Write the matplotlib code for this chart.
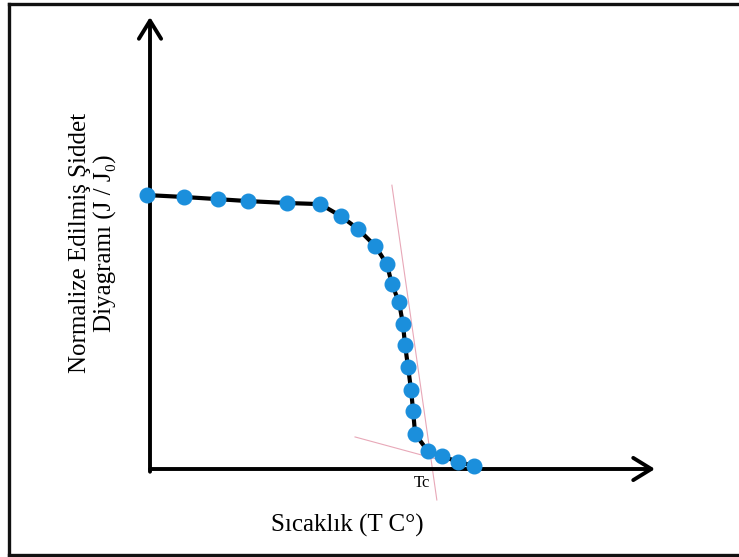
import matplotlib.pyplot as plt
from matplotlib.lines import Line2D

# temperature (arbitrary units) and normalized intensity J/J0
temp = [-0.6, 6.7, 13.5, 19.4, 27.1, 33.7, 37.8, 41.2, 44.6, 46.9, 47.9,
        49.3, 50.1, 50.5, 51.1, 51.7, 52.1, 52.5, 55.0, 57.8, 61.0, 64.2]
intensity = [1.0, 0.993, 0.985, 0.978, 0.971, 0.967, 0.923, 0.876, 0.814,
             0.748, 0.675, 0.609, 0.529, 0.453, 0.372, 0.288, 0.212, 0.128,
             0.066, 0.047, 0.026, 0.011]

# tangent lines used to find Tc
tan1_t = [47.9, 56.8]
tan1_j = [1.036, -0.113]
tan2_t = [40.6, 57.4]
tan2_j = [0.117, 0.033]
tc_pos = (53.9, -0.051)

W, H = 739, 557
fig = plt.figure(figsize=(W / 100, H / 100), dpi=100)
ax = fig.add_axes([150 / W, (H - 469) / H, (655 - 150) / W, (469 - 17) / H])
ax.set_xlim(0, 100)
ax.set_ylim(0, 1.65)
ax.axis('off')

serif = ['Liberation Serif', 'DejaVu Serif']

# axes arrows
arrow = dict(arrowstyle='->,head_length=0.65,head_width=0.4', lw=2.8,
             color='black', mutation_scale=20, shrinkA=0, shrinkB=0)
ax.annotate('', xy=(0, 1.65), xytext=(0, -0.01), arrowprops=arrow,
            annotation_clip=False)
ax.annotate('', xy=(100, 0), xytext=(0, 0), arrowprops=arrow,
            annotation_clip=False)

ax.plot(tan1_t, tan1_j, color='#e8a8b8', lw=0.8, clip_on=False, zorder=1)
ax.plot(tan2_t, tan2_j, color='#e8a8b8', lw=0.8, clip_on=False, zorder=1)

ax.plot(temp, intensity, color='black', lw=3, marker='o', markersize=10.5,
        markerfacecolor='#1b8fdc', markeredgecolor='#1b8fdc', clip_on=False,
        zorder=3)

ax.text(tc_pos[0], tc_pos[1], 'Tc', family=serif, fontsize=12,
        ha='center', va='center')

fig.text(93 / W, 1 - 243 / H, 'Normalize Edilmiş Şiddet\nDiyagramı (J / J₀)',
         family=serif, fontsize=18, rotation=90, ha='center', va='center',
         multialignment='center', linespacing=1.2)
fig.text(347 / W, 1 - 525 / H, 'Sıcaklık (T C°)', family=serif, fontsize=18,
         ha='center', va='center')

# outer frame
fr = dict(color='#111111', lw=2.4)
fig.add_artist(Line2D([9 / W, 9 / W], [1 - 3.5 / H, 1 - 555 / H], **fr))
fig.add_artist(Line2D([9 / W, 1.01], [1 - 4 / H, 1 - 4 / H], **fr))
fig.add_artist(Line2D([9 / W, 1.01], [1 - 555 / H, 1 - 555 / H], **fr))

fig.savefig('out.png', dpi=100)
